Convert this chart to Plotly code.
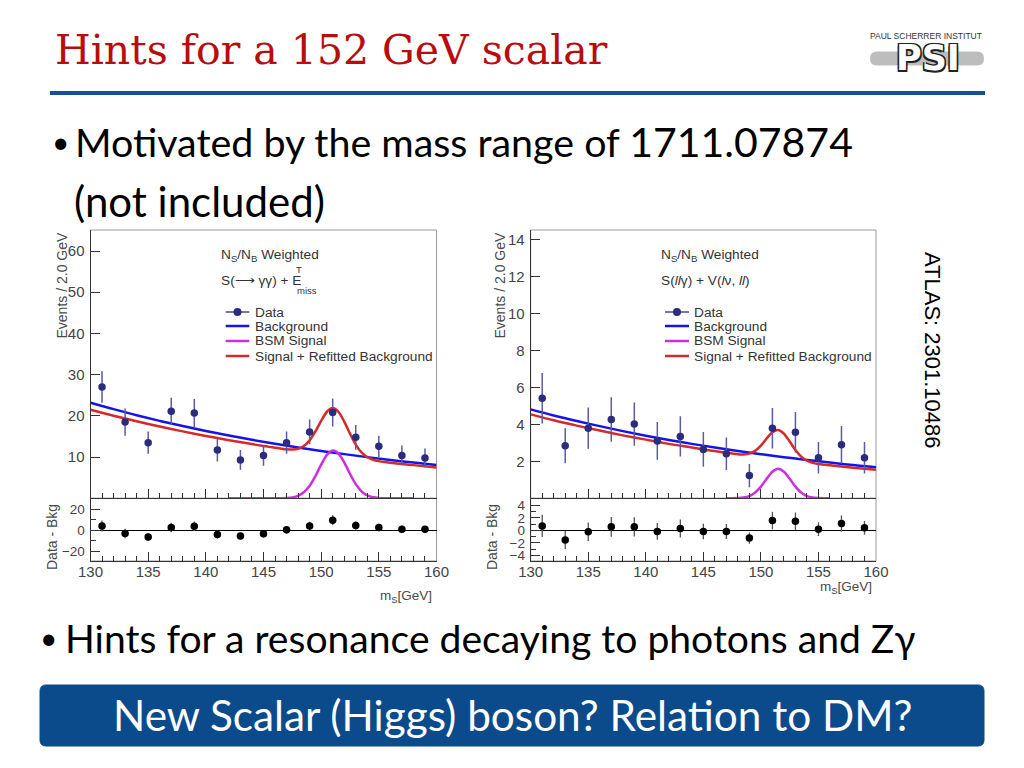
import plotly.graph_objects as go

# ---------------- data ----------------
mass_bins = [131, 133, 135, 137, 139, 141, 143, 145, 147, 149, 151, 153, 155, 157, 159]

left_data = [27.0, 18.5, 13.5, 21.1, 20.7, 11.7, 9.3, 10.4, 13.5, 16.1, 20.8, 14.8, 12.6, 10.4, 9.8]
left_err = [3.8, 3.3, 2.7, 3.3, 3.4, 2.8, 2.4, 2.5, 2.7, 3.0, 3.4, 3.0, 2.6, 2.4, 2.3]
left_resid = [4.3, -2.9, -6.3, 2.8, 4.0, -3.8, -5.3, -3.2, 0.6, 4.3, 9.7, 4.7, 2.8, 1.2, 1.2]
left_resid_err = [5.2, 4.5, 3.7, 4.5, 4.6, 3.8, 3.2, 3.4, 3.7, 4.0, 4.6, 4.0, 3.5, 3.2, 3.1]

right_data = [5.42, 2.85, 3.80, 4.27, 4.02, 3.11, 3.35, 2.65, 2.41, 1.23, 3.80, 3.58, 2.20, 2.90, 2.20]
right_err = [1.37, 0.95, 1.12, 1.20, 1.17, 1.02, 1.09, 0.94, 0.88, 0.63, 1.10, 1.10, 0.85, 1.02, 0.85]
right_resid = [0.73, -1.53, -0.21, 0.57, 0.57, -0.16, 0.31, -0.16, -0.16, -1.22, 1.58, 1.47, 0.20, 1.10, 0.41]
right_resid_err = [1.8, 1.45, 1.5, 1.6, 1.55, 1.35, 1.45, 1.25, 1.2, 0.9, 1.4, 1.4, 1.1, 1.3, 1.1]

bkg_x = [130, 132, 134, 136, 138, 140, 142, 144, 146, 148, 150, 152, 154, 156, 158, 160]
left_bkg = [23.2, 21.63, 20.16, 18.79, 17.52, 16.33, 15.22, 14.19, 13.23, 12.33, 11.50, 10.72, 9.99, 9.31, 8.68, 8.09]
right_bkg = [4.82, 4.49, 4.19, 3.91, 3.64, 3.39, 3.16, 2.95, 2.75, 2.56, 2.39, 2.23, 2.08, 1.94, 1.80, 1.68]

fit_x = [130, 132, 134, 136, 138, 140, 142, 144, 145,
         145.5, 146, 146.5, 147, 147.5, 148, 148.5, 149, 149.5, 150, 150.5,
         151, 151.5, 152, 152.5, 153, 153.5, 154, 154.5, 155, 155.5, 156,
         157, 158, 160]
left_fit = [21.5, 20.04, 18.68, 17.42, 16.24, 15.14, 14.11, 13.15, 12.70,
            12.48, 12.26, 12.07, 11.90, 11.84, 12.02, 12.68, 14.06, 16.23, 18.81, 21.00,
            21.88, 20.98, 18.62, 15.68, 13.03, 11.12, 9.98, 9.36, 9.02, 8.80, 8.63,
            8.33, 8.05, 7.50]
right_fit = [4.55, 4.23, 3.94, 3.67, 3.41, 3.18, 2.95, 2.75, 2.65,
             2.60, 2.56, 2.51, 2.47, 2.43, 2.39, 2.38, 2.42, 2.57, 2.85, 3.24,
             3.58, 3.70, 3.50, 3.08, 2.62, 2.26, 2.04, 1.92, 1.86, 1.82, 1.79,
             1.72, 1.66, 1.55]

left_sig_x = [142, 143, 144, 145, 146, 146.5, 147, 147.5, 148, 148.5, 149, 149.5, 150, 150.5,
              151, 151.5, 152, 152.5, 153, 153.5, 154, 154.5, 155, 155.5, 156, 157, 158]
left_sig = [0, 0, 0, 0, 0.003, 0.015, 0.06, 0.21, 0.59, 1.45, 3.02, 5.38, 8.15, 10.53,
            11.59, 10.87, 8.69, 5.92, 3.44, 1.70, 0.72, 0.26, 0.08, 0.02, 0.005, 0, 0]
right_sig_x = [147, 147.5, 148, 148.5, 149, 149.5, 150, 150.5, 151, 151.5,
               152, 152.5, 153, 153.5, 154, 154.5, 155, 155.5, 156]
right_sig = [0, 0.002, 0.01, 0.04, 0.12, 0.31, 0.63, 1.06, 1.44, 1.60,
             1.44, 1.06, 0.63, 0.31, 0.12, 0.04, 0.01, 0.002, 0]

x_ticks = [130, 135, 140, 145, 150, 155, 160]
left_yticks = [10, 20, 30, 40, 50, 60]
right_yticks = [2, 4, 6, 8, 10, 12, 14]
left_rticks = [-20, 0, 20]
right_rticks = [-4, -2, 0, 2, 4]

# ---------------- styling ----------------
# The page body has an 8px margin, so the figure is 1008x752 and every
# position below (given in window pixels) is shifted by 8px.
OFF = 8
W, H = 1024 - 2 * OFF, 768 - 2 * OFF
def px(x): return (x - OFF) / W
def py(y): return 1 - (y - OFF) / H

C_DATA = "#2B2C7C"
C_ERR = "#5B5BA6"
C_BKG = "#1414E6"
C_SIG = "#CC2EE0"
C_FIT = "#D42A2A"
AX_FONT = dict(family="Liberation Sans, Arial", size=15, color="#444444")
RES_FONT = dict(family="Liberation Sans, Arial", size=13.5, color="#444444")
SANS = "Liberation Sans, Arial"

fig = go.Figure()

def add_panel(xa, ya, xr, yr, bx, bkg, fx, fit, sx, sig, data, err, resid, rerr, msize):
    fig.add_trace(go.Scatter(x=bx, y=bkg, mode="lines", line=dict(color=C_BKG, width=2.5, shape="spline"),
                             xaxis=xa, yaxis=ya, showlegend=False, hoverinfo="skip"))
    fig.add_trace(go.Scatter(x=fx, y=fit, mode="lines", line=dict(color=C_FIT, width=2.5, shape="spline", smoothing=0.8),
                             xaxis=xa, yaxis=ya, showlegend=False, hoverinfo="skip"))
    fig.add_trace(go.Scatter(x=sx, y=sig, mode="lines", line=dict(color=C_SIG, width=2.5, shape="spline", smoothing=0.8),
                             xaxis=xa, yaxis=ya, showlegend=False, hoverinfo="skip"))
    fig.add_trace(go.Scatter(x=mass_bins, y=data, mode="markers",
                             marker=dict(color=C_DATA, size=msize),
                             error_y=dict(type="data", array=err, color=C_ERR, thickness=1.5, width=0),
                             xaxis=xa, yaxis=ya, showlegend=False))
    fig.add_trace(go.Scatter(x=mass_bins, y=resid, mode="markers",
                             marker=dict(color="black", size=msize),
                             error_y=dict(type="data", array=rerr, color="#555555", thickness=1.3, width=0),
                             xaxis=xr, yaxis=yr, showlegend=False))

add_panel("x", "y", "x2", "y2", bkg_x, left_bkg, fit_x, left_fit, left_sig_x, left_sig,
          left_data, left_err, left_resid, left_resid_err, 7.5)
add_panel("x3", "y3", "x4", "y4", bkg_x, right_bkg, fit_x, right_fit, right_sig_x, right_sig,
          right_data, right_err, right_resid, right_resid_err, 7.5)

main_y = [py(498.3), py(230)]
res_y = [py(561), py(498.3)]
left_x = [px(90.5), px(436.5)]
right_x = [px(530.7), px(876)]

def xaxis_cfg(dom, anchor, labels):
    return dict(domain=dom, anchor=anchor, range=[130, 160], tickvals=x_ticks,
                showticklabels=labels, ticks="inside", ticklen=9, tickcolor="#333",
                minor=dict(dtick=1, tick0=130, ticks="inside", ticklen=5, tickcolor="#333"),
                showline=True, linecolor="#333", linewidth=1, showgrid=False, zeroline=False,
                tickfont=AX_FONT, ticklabelstandoff=-3, fixedrange=True, automargin=False)

def yaxis_cfg(dom, anchor, rng, tv, zl=False, minor=None, font=AX_FONT):
    d = dict(domain=dom, anchor=anchor, range=rng, tickvals=tv, ticks="inside", ticklen=9,
             tickcolor="#333", showline=True, linecolor="#333", linewidth=1, showgrid=False,
             zeroline=zl, zerolinecolor="black", zerolinewidth=1.2, tickfont=font,
             ticklabelstandoff=2, fixedrange=True, automargin=False)
    if minor is not None:
        d["minor"] = dict(dtick=minor, ticks="inside", ticklen=5, tickcolor="#333")
    return d

fig.update_layout(
    template="none",
    width=W, height=H, margin=dict(l=0, r=0, t=0, b=0, pad=0, autoexpand=False),
    paper_bgcolor="white", plot_bgcolor="white", showlegend=False,
    xaxis=xaxis_cfg(left_x, "y", False),
    yaxis=yaxis_cfg(main_y, "x", [0, 65.1], left_yticks),
    xaxis2=xaxis_cfg(left_x, "y2", True),
    yaxis2=yaxis_cfg(res_y, "x2", [-29, 30.5], left_rticks, zl=True, minor=10, font=RES_FONT),
    xaxis3=xaxis_cfg(right_x, "y3", False),
    yaxis3=yaxis_cfg(main_y, "x3", [0, 14.54], right_yticks),
    xaxis4=xaxis_cfg(right_x, "y4", True),
    yaxis4=yaxis_cfg(res_y, "x4", [-4.9, 5.15], right_rticks, zl=True, minor=1, font=RES_FONT),
)

shapes = []
for xa, ya in [("x", "y"), ("x2", "y2"), ("x3", "y3"), ("x4", "y4")]:
    shapes.append(dict(type="rect", xref=f"{xa} domain", yref=f"{ya} domain", x0=0, x1=1, y0=0, y1=1,
                       line=dict(color="#9a9a9a", width=1), layer="below"))
shapes.append(dict(type="line", xref="paper", yref="paper", x0=px(50), x1=px(985), y0=py(93), y1=py(93),
                   line=dict(color="#16508E", width=4)))
x0, x1, y0, y1, r = 40, 984, 685, 746, 6
path = (f"M {px(x0+r)},{py(y0)} L {px(x1-r)},{py(y0)} Q {px(x1)},{py(y0)} {px(x1)},{py(y0+r)} "
        f"L {px(x1)},{py(y1-r)} Q {px(x1)},{py(y1)} {px(x1-r)},{py(y1)} L {px(x0+r)},{py(y1)} "
        f"Q {px(x0)},{py(y1)} {px(x0)},{py(y1-r)} L {px(x0)},{py(y0+r)} Q {px(x0)},{py(y0)} {px(x0+r)},{py(y0)} Z")
shapes.append(dict(type="path", xref="paper", yref="paper", path=path, fillcolor="#0B4A8B",
                   line=dict(color="#0B4A8B", width=1)))
pl, pr, pt, pb = 870, 984, 51.5, 65.5
rr = (pb - pt) / 2
pill = (f"M {px(pl+rr)},{py(pt)} L {px(pr-rr)},{py(pt)} Q {px(pr)},{py(pt)} {px(pr)},{py(pt+rr)} "
        f"Q {px(pr)},{py(pb)} {px(pr-rr)},{py(pb)} L {px(pl+rr)},{py(pb)} Q {px(pl)},{py(pb)} {px(pl)},{py(pt+rr)} "
        f"Q {px(pl)},{py(pt)} {px(pl+rr)},{py(pt)} Z")
shapes.append(dict(type="path", xref="paper", yref="paper", path=pill, fillcolor="#BDBDBD",
                   line=dict(color="#BDBDBD", width=0)))

def legend_shapes(lx0, lx1, mx):
    out = []
    out.append(dict(type="line", xref="paper", yref="paper", x0=px(lx0), x1=px(lx1), y0=py(312), y1=py(312),
                    line=dict(color=C_DATA, width=1.3)))
    out.append(dict(type="circle", xref="paper", yref="paper", x0=px(mx-4), x1=px(mx+4), y0=py(316), y1=py(308),
                    fillcolor=C_DATA, line=dict(color=C_DATA, width=0)))
    for yy, col in [(326, C_BKG), (341, C_SIG), (356, C_FIT)]:
        out.append(dict(type="line", xref="paper", yref="paper", x0=px(lx0), x1=px(lx1), y0=py(yy), y1=py(yy),
                        line=dict(color=col, width=2.5)))
    return out
shapes += legend_shapes(225.7, 249.3, 237.5)
shapes += legend_shapes(665, 689, 677)
fig.update_layout(shapes=shapes)

ann = []
def T(x, y, text, size, color="black", family=SANS, xa="left", ya="middle", angle=0, **kw):
    ann.append(dict(xref="paper", yref="paper", x=px(x), y=py(y), text=text, showarrow=False,
                    xanchor=xa, yanchor=ya, textangle=angle, borderpad=0,
                    font=dict(family=family, size=size, color=color, **kw)))

T(54, 50, "Hints for a 152 GeV scalar", 41, color="#B80D0D", family="DejaVu Serif")
T(926, 36, "PAUL SCHERRER INSTITUT", 8.5, color="#333333", xa="center", family="Liberation Sans")
T(928, 58, "<b>PSI</b>", 35, color="white", xa="center", family="DejaVu Sans",
  shadow="-1.5px -1.5px 0 #222, 1.5px -1.5px 0 #222, -1.5px 1.5px 0 #222, 1.5px 1.5px 0 #222")
T(60, 141, "•", 30, family="Lato", xa="center")
T(74, 141, "Motivated by the mass range of <span style='font-size:41px'>1711.07874</span>", 39.4, family="Lato")
T(73, 201, "(not included)", 42, family="Lato")
T(48, 637, "•", 30, family="Lato", xa="center")
T(64, 637, "Hints for a resonance decaying to photons and Zγ", 39.1, family="Lato")
T(512, 714, "New Scalar (Higgs) boson? Relation to DM?", 42.3, color="white", xa="center", family="Lato")
T(933, 350, "ATLAS: 2301.10486", 22, xa="center", angle=90)

AXT = "#4a4a4a"
for (ex, dx, mx_, my_) in [(61.5, 52, 433, 596), (499.5, 492, 873, 587)]:
    T(ex, 232, "Events / 2.0 GeV", 14, color=AXT, xa="center", ya="top", angle=-90)
    T(dx, 503, "Data - Bkg", 14, color=AXT, xa="center", ya="top", angle=-90)
    T(mx_, my_, "m<sub>S</sub>[GeV]", 13.5, color=AXT, xa="right")

for lx in [220, 660]:
    T(lx, 256, "N<sub>S</sub>/N<sub>B</sub> Weighted", 13.7, color="#333333")
T(220, 281, "S(⟶ γγ) + E", 13.7, color="#333333")
T(295, 270, "T", 9.5, color="#333333")
T(296, 290, "miss", 9.5, color="#333333")
T(660, 281, "S(<i>ll</i>γ) + V(<i>l</i>ν, <i>ll</i>)", 13.7, color="#333333")

for lx in [254, 693]:
    for yy, txt in [(312, "Data"), (326, "Background"), (341, "BSM Signal"), (356, "Signal + Refitted Background")]:
        T(lx, yy, txt, 13.7, color="#333333")

fig.update_layout(annotations=ann)
fig.write_html("out.html")
